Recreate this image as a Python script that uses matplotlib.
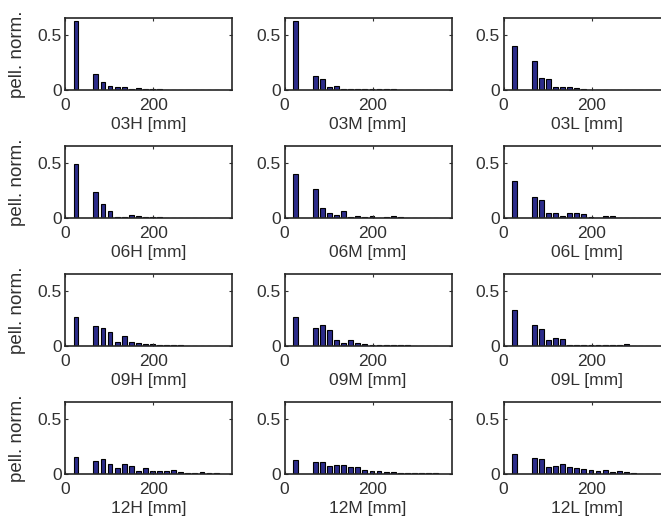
import matplotlib
matplotlib.use("Agg")
import matplotlib.pyplot as plt

# bin centres [mm]
x_centres = [25, 70, 86, 102, 118, 134, 150, 166, 182, 198, 214, 230, 246, 262, 278, 294, 310, 326, 342]

labels = ["03H", "03M", "03L", "06H", "06M", "06L", "09H", "09M", "09L", "12H", "12M", "12L"]

v03H = [0.62, 0.144, 0.072, 0.039, 0.024, 0.027, 0.010, 0.018, 0.010, 0.008, 0.005, 0, 0, 0, 0, 0, 0, 0, 0]
v03M = [0.62, 0.126, 0.096, 0.027, 0.036, 0.012, 0.010, 0.008, 0.005, 0.005, 0.008, 0.005, 0.005, 0, 0, 0, 0, 0, 0]
v03L = [0.40, 0.260, 0.110, 0.100, 0.027, 0.027, 0.027, 0.020, 0.008, 0, 0, 0, 0, 0, 0, 0, 0, 0, 0]
v06H = [0.485, 0.238, 0.130, 0.065, 0.010, 0.010, 0.028, 0.022, 0.010, 0.012, 0.006, 0, 0, 0, 0, 0, 0, 0, 0]
v06M = [0.40, 0.260, 0.093, 0.043, 0.028, 0.059, 0.006, 0.020, 0.006, 0.020, 0.004, 0.006, 0.020, 0.008, 0, 0, 0, 0, 0]
v06L = [0.336, 0.190, 0.167, 0.043, 0.043, 0.022, 0.043, 0.043, 0.035, 0.006, 0, 0.020, 0.020, 0, 0, 0, 0, 0, 0]
v09H = [0.262, 0.180, 0.164, 0.125, 0.040, 0.090, 0.040, 0.024, 0.020, 0.015, 0.012, 0.008, 0.008, 0.005, 0, 0, 0, 0, 0]
v09M = [0.260, 0.158, 0.190, 0.140, 0.054, 0.030, 0.054, 0.030, 0.020, 0.012, 0.012, 0.008, 0.005, 0.005, 0.005, 0, 0, 0, 0]
v09L = [0.327, 0.193, 0.152, 0.057, 0.068, 0.065, 0.012, 0.012, 0.012, 0.012, 0.012, 0.012, 0.012, 0.012, 0.018, 0.003, 0.004, 0, 0]
v12H = [0.156, 0.120, 0.132, 0.093, 0.051, 0.087, 0.075, 0.027, 0.054, 0.027, 0.024, 0.024, 0.036, 0.018, 0.012, 0.009, 0.015, 0.009, 0.006]
v12M = [0.126, 0.108, 0.110, 0.075, 0.084, 0.078, 0.066, 0.066, 0.039, 0.030, 0.024, 0.015, 0.018, 0.009, 0.006, 0.012, 0.012, 0.012, 0.012]
v12L = [0.180, 0.140, 0.132, 0.066, 0.075, 0.087, 0.060, 0.057, 0.048, 0.039, 0.027, 0.039, 0.015, 0.024, 0.018, 0.006, 0, 0, 0]

values = [v03H, v03M, v03L, v06H, v06M, v06L, v09H, v09M, v09L, v12H, v12M, v12L]

xticks = [0, 200]
yticks = [0, 0.5]
ytick_labels = ["0", "0.5"]

plt.rcParams['font.family'] = ['Liberation Sans', 'DejaVu Sans']

W, H = 661, 517
fig = plt.figure(figsize=(W / 100, H / 100), dpi=100)

col_left = [65, 284.5, 503.5]
ax_w = 167
row_bottom = [90, 218, 346, 474]
ax_h = 72
txt_col = '#303030'

for i, (lab, vals) in enumerate(zip(labels, values)):
    r, c = divmod(i, 3)
    ax = fig.add_axes([col_left[c] / W, 1 - row_bottom[r] / H, ax_w / W, ax_h / H])
    ax.bar(x_centres, vals, width=11, color='#2c2c8a', edgecolor='black', linewidth=0.8)
    ax.set_xlim(0, 378)
    ax.set_ylim(0, 0.65)
    ax.set_xticks(xticks)
    ax.set_yticks(yticks)
    ax.set_yticklabels(ytick_labels)
    ax.tick_params(direction='in', length=2.5, width=0.8, top=True, right=True,
                   labelsize=12.5, colors=txt_col)
    ax.tick_params(axis='x', pad=5.5)
    ax.tick_params(axis='y', pad=2.5)
    for s in ax.spines.values():
        s.set_linewidth(1.2)
        s.set_color('#262626')
    ax.set_xlabel(f"{lab} [mm]", fontsize=12.5, color=txt_col)
    ax.xaxis.set_label_coords(0.5, -0.37)
    if c == 0:
        ax.set_ylabel("pell. norm.", fontsize=13.5, color=txt_col)
        ax.yaxis.set_label_coords((26 - 65) / ax_w, 0.5)

fig.savefig("out.png", dpi=100)
